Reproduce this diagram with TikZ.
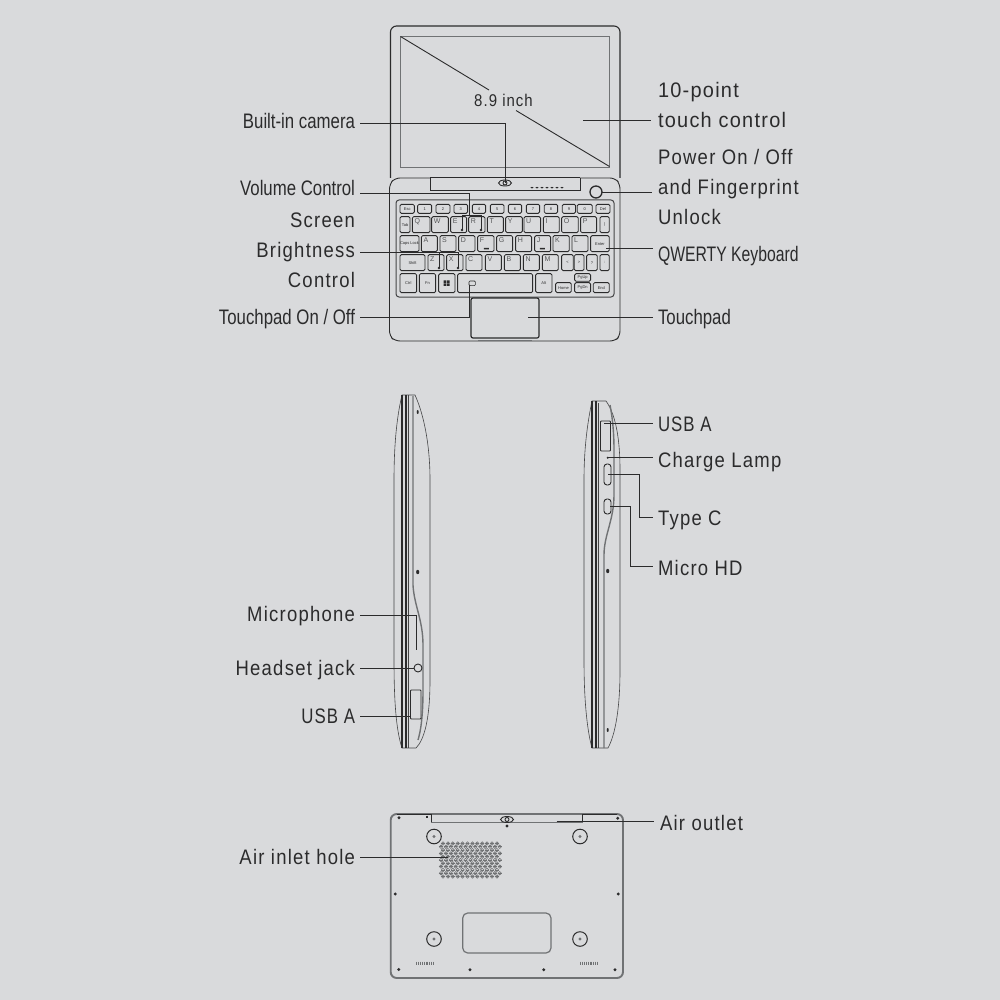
\documentclass[tikz,border=0pt]{standalone}
\usepackage{fontspec}
\setmainfont{Liberation Sans}
\newfontfamily\lblA[FakeStretch=0.88,LetterSpace=6]{Liberation Sans}
\newfontfamily\lblB[FakeStretch=0.8]{Liberation Sans}
\newfontfamily\lblC[FakeStretch=0.75]{Liberation Sans}
\newfontfamily\lblD[FakeStretch=0.8,LetterSpace=5]{Liberation Sans}
\newfontfamily\lblE[FakeStretch=0.95,LetterSpace=6]{Liberation Sans}
\definecolor{bgc}{HTML}{D9DADC}
\definecolor{ink}{HTML}{2B2B2C}
\definecolor{soft}{HTML}{707274}
\newcount\kn
\newcommand{\kk}[5]{\global\advance\kn by 1
  \draw[keyb] (#1,#2) rectangle (#3,#4);
  \node[keyt] (k\the\kn) at ({(#1+#3)/2},{(#2+#4)/2}) {#5};}
\newcommand{\kl}[5]{\global\advance\kn by 1
  \draw[keyb] (#1,#2) rectangle (#3,#4);
  \node[keyl] (k\the\kn) at (#1+6,#2+4) {#5};}
\tikzset{
  conn/.style={draw=ink,line width=0.9pt},
  lineA/.style={draw=ink,line width=0.9pt},
  thin body/.style={draw=ink!85!bgc,line width=0.6pt},
  gray body/.style={draw=soft,line width=1pt},
  keyb/.style={draw=ink,line width=0.85pt,rounded corners=1.4pt},
  keyt/.style={font=\fontsize{4}{4}\selectfont,text=ink,inner sep=0pt},
  keyl/.style={font=\fontsize{7}{7}\selectfont,text=ink!75!bgc,inner sep=0pt,anchor=north west},
  lr/.style={anchor=east,inner sep=0pt,outer sep=5pt,text=ink,align=right,font=\lblB\fontsize{21}{30}\selectfont},
  ll/.style={anchor=west,inner sep=0pt,outer sep=5pt,text=ink,align=left,font=\lblB\fontsize{21}{30}\selectfont},
  spaced/.style={font=\lblA\fontsize{21}{30}\selectfont},
  screwdot/.style={fill=ink,draw=none},
  hole/.style={draw=soft,line width=0.8pt},
}
\begin{document}
\begin{tikzpicture}[x=1pt,y=-1pt]
\fill[bgc] (0,0) rectangle (1000,1000);
\useasboundingbox (0,0) rectangle (1000,1000);
% ---------- top view ----------
\draw[lineA,line width=1.1pt,rounded corners=6pt] (390.5,178) -- (390.5,26) -- (620,26) -- (620,178);
\draw[soft,line width=0.9pt] (400.5,36.5) rectangle (609.5,167);
\draw[lineA,rounded corners=5pt] (430,178) -- (395,178) -- (389.5,184) -- (389.5,336) -- (395,341) -- (615,341) -- (620,336) -- (620,184) -- (615,178) -- (580,178);
\draw[lineA] (430,177.5) -- (580,177.5);
\draw[lineA] (430,178) -- (430,190) -- (580,190) -- (580,178);
\draw[soft,line width=1.4pt] (478,340.5) -- (532,340.5);
\draw[lineA,fill=bgc] (505,183) ellipse (6.5 and 3);
\draw[lineA] (505,183) circle (2);
\foreach \x in {532,537,...,562}{\fill[ink] (\x,187.6) ellipse (1.6 and 0.8);}
\draw[lineA,line width=1.3pt] (596,192) circle (6);
\draw[thin body,line width=1pt,rounded corners=3pt] (396,200) rectangle (614,297);
\draw[line width=1.2pt,draw=ink,rounded corners=2pt] (471,298) rectangle (539,338);
\begin{scope}[shift={(380,170)},x=0.3333pt,y=-0.3333pt]
\kk{60}{103}{103}{130}{Esc}\kk{113}{103}{155}{130}{1}\kk{168}{103}{210}{130}{2}\kk{222}{103}{263}{130}{3}
\kk{277}{103}{317}{130}{4}\kk{331}{103}{372}{130}{5}\kk{385}{103}{425}{130}{6}\kk{439}{103}{479}{130}{7}
\kk{493}{103}{533}{130}{8}\kk{547}{103}{587}{130}{9}\kk{592}{103}{637}{130}{0}\kk{648}{103}{690}{130}{Del}
\kk{60}{140}{90}{188}{Tab}
\kl{97}{140}{150}{188}{Q}\kl{155}{140}{205}{188}{W}\kl{212}{140}{260}{188}{E}\kl{266}{140}{315}{188}{R}
\kl{322}{140}{370}{188}{T}\kl{377}{140}{427}{188}{Y}\kl{432}{140}{482}{188}{U}\kl{490}{140}{538}{188}{I}
\kl{545}{140}{595}{188}{O}\kl{602}{140}{650}{188}{P}\kk{660}{140}{688}{188}{|}
\kk{60}{197}{117}{245}{Caps Lock}
\kl{124}{197}{172}{245}{A}\kl{180}{197}{228}{245}{S}\kl{236}{197}{285}{245}{D}\kl{293}{197}{342}{245}{F}
\kl{350}{197}{398}{245}{G}\kl{407}{197}{455}{245}{H}\kl{464}{197}{512}{245}{J}\kl{519}{197}{568}{245}{K}
\kl{576}{197}{624}{245}{L}\kk{632}{197}{688}{245}{Enter}
\kk{60}{254}{135}{302}{Shift}
\kl{144}{254}{192}{302}{Z}\kl{200}{254}{249}{302}{X}\kl{258}{254}{306}{302}{C}\kl{316}{254}{364}{302}{V}
\kl{373}{254}{421}{302}{B}\kl{430}{254}{478}{302}{N}\kl{487}{254}{535}{302}{M}
\kk{545}{254}{580}{302}{<}\kk{583}{254}{612}{302}{>}\kk{620}{254}{652}{302}{?}\kk{660}{254}{688}{302}{:}
\kk{60}{311}{110}{368}{Ctrl}\kk{118}{311}{167}{368}{Fn}\kk{176}{311}{225}{368}{}
\draw[keyb] (233,311) rectangle (458,368);
\kk{467}{311}{516}{368}{Alt}
\kk{527}{338}{574}{368}{Home}\kk{584}{311}{632}{334}{PgUp}\kk{584}{338}{632}{368}{PgDn}\kk{640}{338}{688}{368}{End}
\fill[ink] (191,331) rectangle (199,338.5) (201,331) rectangle (209,338.5) (191,340.5) rectangle (199,348) (201,340.5) rectangle (209,348);
\draw[lineA,line width=0.6pt,rounded corners=1pt] (267,333) rectangle (286,347);
\fill[ink] (312,234) rectangle (327,238) (480,234) rectangle (495,238);
\end{scope}
% labels, top view
\node[lr] (cam) at (360,120.5) {Built-in camera};
\node[lr] (vol) at (360,188) {Volume Control};
\node[lr,spaced] (bright) at (360,250) {Screen\\Brightness\\Control};
\node[lr] (tpoff) at (360,319) {Touchpad On / Off};
\node[ll,font=\lblE\fontsize{21}{30}\selectfont] (touch) at (653,105) {10-point\\touch control};
\node[ll,spaced] (power) at (653,187) {Power On / Off\\and Fingerprint\\Unlock};
\node[ll,font=\lblC\fontsize{21}{30}\selectfont] (qw) at (653,256) {QWERTY Keyboard};
\node[ll] (tp) at (653,319) {Touchpad};
\node[text=ink,inner sep=0pt,font=\lblA\fontsize{17}{20}\selectfont] (size) at (503.5,100) {8.9 inch};
% connectors, top view
\coordinate (camEnd) at (505,183);
\coordinate (a1) at (360,123);
\draw[conn] (a1) -- (505,123) -- (camEnd);
\coordinate (diagA) at (400.5,36.5); \coordinate (diagB) at (609.5,166.5);
\draw[conn,line width=0.9pt] (diagA) -- (489,90);
\draw[conn,line width=0.9pt] (516,110.5) -- (diagB);
\coordinate (a2) at (360,193);
\draw[conn] (a2) -- (469,193) -- (469,215);
\coordinate (vE) at (462,230); \coordinate (vR) at (481,230);
\draw[conn] (vE) -- (462,215) -- (481,215) -- (vR);
\fill[ink] (vE) circle (1.4) (vR) circle (1.4);
\coordinate (a3) at (360,252.5);
\coordinate (bZ) at (439,268); \coordinate (bX) at (458,268);
\draw[conn] (a3) -- (458,252.5) -- (bX);
\draw[conn] (439,252.5) -- (bZ);
\fill[ink] (bZ) circle (1.4) (bX) circle (1.4);
\coordinate (tpIcon) at (469,285);
\draw[conn] ([yshift=1.5pt]tpoff.east) -- (469,317.5) -- (tpIcon);
\coordinate (touchEnd) at (583,120.7);
\draw[conn] (touchEnd) -- (651,120.7);
\draw[conn] (602,192) -- (652,192);
\coordinate (qwEnd) at (606,248);
\draw[conn] (qwEnd) -- (653,248);
\coordinate (tpEnd) at (528,317.5);
\draw[conn] (tpEnd) -- ([yshift=1.5pt]tp.west);
% ---------- left side view ----------
\draw[thin body] (402,395) .. controls (396,420) and (394,450) .. (394,480) -- (394,660) .. controls (394,700) and (396,730) .. (402,748) -- (416,748) .. controls (424,740) and (430,720) .. (430,680) -- (430,480) .. controls (430,445) and (424,415) .. (415,395) -- cycle;
\draw[lineA,line width=1.1pt] (402,395) -- (402,748);
\draw[lineA,line width=1.1pt] (406,395) -- (406,748);
\draw[thin body] (408,395) -- (408,748);
\draw[gray body,line width=1.4pt] (413,396) -- (413,585) .. controls (414,605) and (423,620) .. (423,645) -- (423,690) .. controls (423,715) and (421,730) .. (418,740);
\fill[ink] (417.7,412) ellipse (1 and 2) (417.7,572) ellipse (1.6 and 2.2);
\draw[lineA,fill=bgc] (418,668) circle (4);
\draw[lineA,fill=bgc,rounded corners=0.8pt] (410.5,690) rectangle (421,719);
\node[lr,spaced] (mic) at (360,616) {Microphone};
\node[lr,spaced] (jack) at (360,670) {Headset jack};
\node[lr,font=\lblD\fontsize{21}{30}\selectfont] (usbL) at (360,716) {USB A};
\coordinate (micEnd) at (416,650);
\draw[conn] ([yshift=1pt]mic.east) -- (416,615) -- (micEnd);
\coordinate (jackEnd) at (414,668);
\draw[conn] ([yshift=2pt]jack.east) -- (jackEnd);
\coordinate (usbLEnd) at (411,716);
\draw[conn] (usbL.east) -- (usbLEnd);
% ---------- right side view ----------
\draw[thin body] (592,401) .. controls (587,425) and (584,450) .. (584,480) -- (584,660) .. controls (584,700) and (587,730) .. (592,748) -- (608,748) .. controls (615,735) and (620,710) .. (620,670) -- (620,470) .. controls (620,440) and (616,415) .. (606,401) -- cycle;
\draw[lineA,line width=1.1pt] (592,401) -- (592,748);
\draw[lineA,line width=1.1pt] (596,401) -- (596,748);
\draw[thin body] (598,403) -- (598,748);
\draw[gray body,line width=1.4pt] (604,748) -- (604,555) .. controls (604,535) and (614,520) .. (614,495) -- (614,450) .. controls (614,430) and (612,415) .. (610,405);
\fill[ink] (607.7,571) ellipse (1.6 and 2.2) (607.7,730) ellipse (1 and 2);
\draw[lineA,fill=bgc,rounded corners=0.8pt] (600.5,421) rectangle (610.5,451);
\fill[ink] (607.7,457.7) circle (1.1);
\draw[lineA,fill=bgc,rounded corners=3pt] (604,464) rectangle (611,485);
\draw[lineA,fill=bgc,rounded corners=3pt] (604,499) rectangle (611,514);
\node[ll,font=\lblD\fontsize{21}{30}\selectfont] (usbR) at (653,424) {USB A};
\node[ll,spaced] (lamp) at (653,462) {Charge Lamp};
\node[ll,spaced] (typec) at (653,520) {Type C};
\node[ll,spaced] (hd) at (653,568) {Micro HD};
\coordinate (usbREnd) at (604,423);
\draw[conn] (usbREnd) -- (653,423);
\coordinate (lampEnd) at (608,457.7);
\draw[conn,line width=0.7pt] (lampEnd) -- (653,457.7);
\coordinate (typecEnd) at (608,474);
\draw[conn] (typecEnd) -- (639,474) -- (639,517.5) -- (653,517.5);
\coordinate (hdEnd) at (610,506);
\draw[conn] (hdEnd) -- (630,506) -- (630,566.5) -- (653,566.5);
% ---------- bottom view ----------
\draw[soft,line width=1.9pt,rounded corners=6pt] (390.7,814) rectangle (623,978);
\draw[soft,line width=1pt] (431,814) -- (431,822) -- (582,822) -- (582,814);
\draw[lineA] (431,814) -- (431,822) (582,814) -- (582,822);
\draw[lineA] (397,814.5) -- (431,814.5) (582,814.5) -- (617,814.5);
\draw[ink,line width=1.1pt] (427,815.5) -- (427,818);
\draw[lineA,fill=bgc] (507,819.5) ellipse (6.5 and 3);
\draw[lineA] (507,819.5) circle (2);
\foreach \cx/\cy in {434/836.5,580/836.5,434/939,580/939}{
  \draw[lineA,line width=1pt] (\cx,\cy) circle (7.3);
  \fill[soft] (\cx,\cy) circle (1.6);
}
\draw[soft,line width=1.2pt,rounded corners=5pt] (462.7,913) rectangle (551,953);
\foreach \sx/\sy in {399/817.7,617.7/818.3,507/826,395.3/894,618.3/894,398.7/969.5,470/969.7,543.7/969.7,615/969.7}{
  \fill[screwdot] (\sx,\sy) circle (1.6);
}
\foreach \gx in {416.5,580.5}{
  \foreach \i in {0,...,9}{\draw[soft,line width=0.9pt] (\gx+\i*1.9,961.5) -- (\gx+\i*1.9,965);}
}
% grille
\foreach \r in {0,...,10}{
  \pgfmathsetmacro{\rowx}{mod(\r,2)==0 ? 443 : 441}
  \pgfmathsetmacro{\rowc}{mod(\r,2)==0 ? 11 : 12}
  \foreach \c in {0,...,\rowc}{
    \draw[hole] ({\rowx+\c*4.9},{843.5+\r*3.3}) ++(-1.7,0) -- ++(3.4,0);
    \draw[hole,line width=0.6pt] ({\rowx+\c*4.9},{843.5+\r*3.3}) circle (1.7);
  }
}
\node[lr,spaced] (inlet) at (360,857) {Air inlet hole};
\node[ll,spaced] (outlet) at (655,823) {Air outlet};
\coordinate (inEnd) at (448,857);
\draw[conn] (inlet.east) -- (inEnd);
\coordinate (outEnd) at (556.7,821.7);
\draw[conn] (outEnd) -- (654,821.7);
\end{tikzpicture}
\end{document}
